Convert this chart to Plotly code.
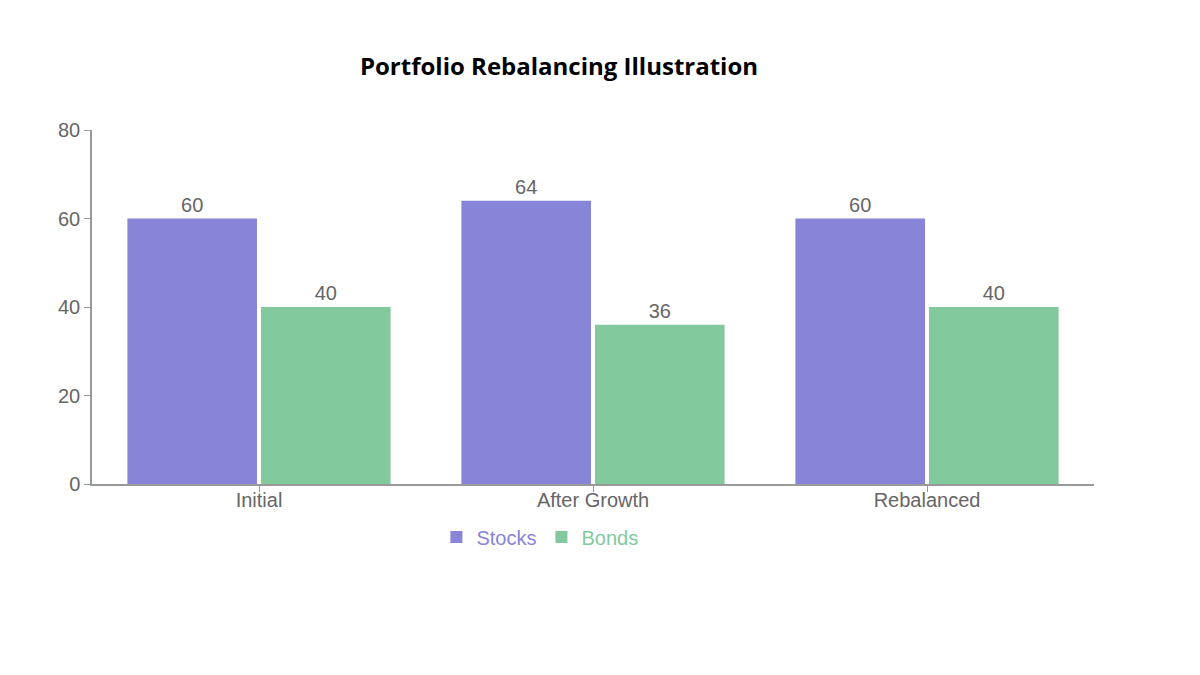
import plotly.graph_objects as go

# Portfolio weights (%) at each stage
stages = ["Initial", "After Growth", "Rebalanced"]
stocks = [60, 64, 60]
bonds = [40, 36, 40]

series_colors = {
    "Stocks": "#8884d8",
    "Bonds": "#82ca9d"
}

axis_gray = "#666666"

fig = go.Figure()

for name, values in [("Stocks", stocks), ("Bonds", bonds)]:
    color = series_colors[name]
    fig.add_trace(go.Bar(
        x=stages,
        y=values,
        name=f"<span style='color:{color}'>{name}</span>",
        marker=dict(color=color, line=dict(width=0)),
        text=values,
        textposition="outside",
        textfont=dict(color=axis_gray, size=20),
        cliponaxis=False,
        hoverinfo="x+y"
    ))

# page body adds ~8px offset, so margins are shifted to compensate
fig.update_layout(
    width=1200,
    height=675,
    barmode="group",
    bargap=0.2,
    bargroupgap=0.03,
    plot_bgcolor="white",
    paper_bgcolor="white",
    font=dict(family="Liberation Sans, Arial, sans-serif", size=20, color=axis_gray),
    title=dict(
        text="<b>Portfolio Rebalancing Illustration</b>",
        x=551 / 1200,
        xanchor="center",
        y=1 - 59 / 675,
        yanchor="middle",
        font=dict(size=24, color="black", family="Open Sans, Arial, sans-serif")
    ),
    margin=dict(l=84, r=114, t=122, b=199),
    showlegend=True,
    legend=dict(
        orientation="h",
        x=0.447,
        xanchor="center",
        y=-0.15,
        yanchor="middle",
        font=dict(size=20),
        itemwidth=30,
        traceorder="normal"
    ),
    xaxis=dict(
        showline=True,
        linecolor="#999999",
        linewidth=1.5,
        ticks="outside",
        tickcolor="#999999",
        ticklen=6,
        ticklabelstandoff=-9,
        tickfont=dict(size=20, color=axis_gray),
        showgrid=False
    ),
    yaxis=dict(
        range=[0, 80],
        tickvals=[0, 20, 40, 60, 80],
        showline=True,
        linecolor="#999999",
        linewidth=1.5,
        ticks="outside",
        tickcolor="#999999",
        ticklen=6,
        tickfont=dict(size=20, color=axis_gray),
        showgrid=False,
        zeroline=False
    )
)

fig.write_html("out.html")
